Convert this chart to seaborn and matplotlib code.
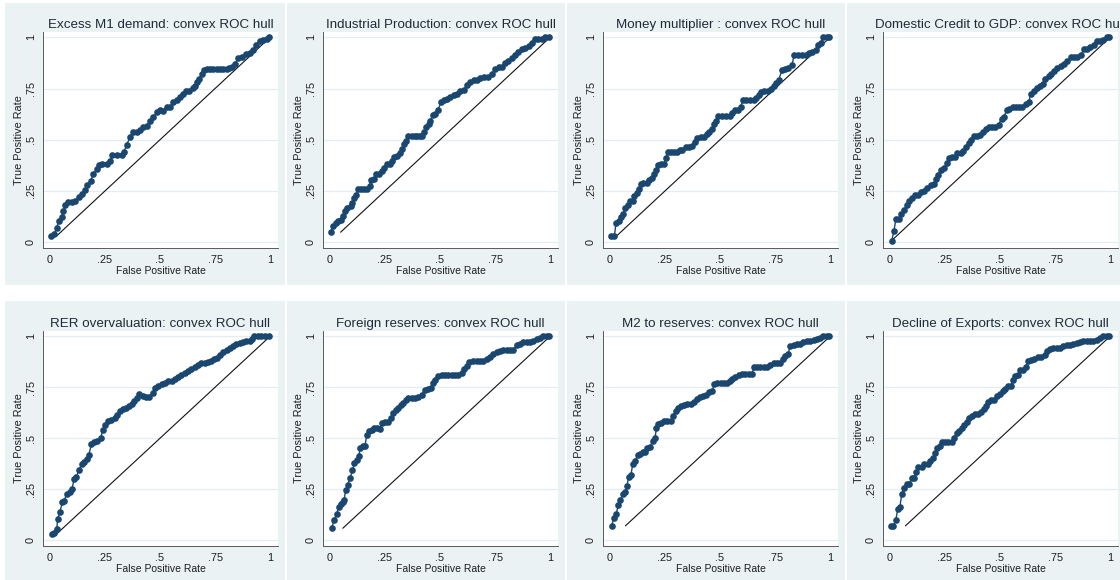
import matplotlib
matplotlib.use("Agg")
import matplotlib.pyplot as plt
import seaborn as sns
import pandas as pd
from matplotlib.patches import Rectangle

# ---------------- data ----------------
titles = [
    "Excess M1 demand: convex ROC hull",
    "Industrial Production: convex ROC hull",
    "Money multiplier : convex ROC hull",
    "Domestic Credit to GDP: convex ROC hull",
    "RER overvaluation: convex ROC hull",
    "Foreign reserves: convex ROC hull",
    "M2 to reserves: convex ROC hull",
    "Decline of Exports: convex ROC hull",
]

tick_values = [0, 0.25, 0.5, 0.75, 1]
tick_labels = ["0", ".25", ".5", ".75", "1"]

m1_fpr = [0.005, 0.02, 0.03, 0.04, 0.053, 0.06, 0.07, 0.083, 0.1, 0.114, 0.13, 0.144, 0.16, 0.17,
          0.185, 0.197, 0.212, 0.224, 0.238, 0.258, 0.273, 0.283, 0.303, 0.326, 0.336, 0.348,
          0.364, 0.379, 0.394, 0.409, 0.424, 0.439, 0.455, 0.47, 0.485, 0.5, 0.515, 0.53, 0.545,
          0.56, 0.576, 0.59, 0.603, 0.618, 0.633, 0.648, 0.659, 0.67, 0.679, 0.689, 0.7, 0.712,
          0.727, 0.742, 0.758, 0.773, 0.788, 0.803, 0.815, 0.826, 0.841, 0.856, 0.871, 0.891,
          0.909, 0.924, 0.936, 0.952, 0.97, 0.985, 0.997]
m1_tpr = [0.03, 0.04, 0.07, 0.105, 0.12, 0.15, 0.18, 0.195, 0.195, 0.2, 0.22, 0.235, 0.255, 0.28,
          0.30, 0.333, 0.355, 0.374, 0.382, 0.382, 0.398, 0.423, 0.423, 0.423, 0.439, 0.476,
          0.512, 0.54, 0.54, 0.545, 0.564, 0.569, 0.589, 0.61, 0.634, 0.645, 0.642, 0.658, 0.662,
          0.683, 0.694, 0.707, 0.724, 0.737, 0.74, 0.753, 0.764, 0.78, 0.797, 0.821, 0.84, 0.846,
          0.846, 0.846, 0.846, 0.846, 0.846, 0.846, 0.848, 0.854, 0.87, 0.9, 0.902, 0.919,
          0.922, 0.938, 0.963, 0.98, 0.988, 0.992, 1.0]

ip_fpr = [0.003, 0.015, 0.026, 0.036, 0.048, 0.059, 0.068, 0.079, 0.094, 0.101, 0.109, 0.119,
          0.127, 0.139, 0.154, 0.169, 0.18, 0.187, 0.199, 0.207, 0.222, 0.234, 0.245, 0.257,
          0.272, 0.282, 0.29, 0.305, 0.317, 0.328, 0.335, 0.346, 0.355, 0.373, 0.385, 0.396,
          0.407, 0.418, 0.429, 0.437, 0.449, 0.456, 0.467, 0.479, 0.489, 0.506, 0.52, 0.532,
          0.547, 0.562, 0.577, 0.592, 0.607, 0.622, 0.637, 0.653, 0.668, 0.683, 0.701, 0.72,
          0.735, 0.751, 0.766, 0.781, 0.796, 0.811, 0.826, 0.841, 0.856, 0.872, 0.887, 0.902,
          0.917, 0.932, 0.947, 0.962, 0.977, 0.997]
ip_tpr = [0.048, 0.077, 0.093, 0.105, 0.11, 0.126, 0.151, 0.167, 0.175, 0.192, 0.216, 0.23,
          0.257, 0.261, 0.261, 0.261, 0.274, 0.303, 0.307, 0.334, 0.334, 0.348, 0.364, 0.38,
          0.38, 0.397, 0.416, 0.421, 0.433, 0.454, 0.479, 0.495, 0.518, 0.518, 0.518, 0.518,
          0.518, 0.518, 0.536, 0.561, 0.577, 0.593, 0.621, 0.626, 0.643, 0.684, 0.692, 0.7,
          0.708, 0.716, 0.725, 0.738, 0.744, 0.766, 0.782, 0.79, 0.79, 0.803, 0.807, 0.807,
          0.82, 0.843, 0.856, 0.856, 0.875, 0.885, 0.897, 0.913, 0.93, 0.941, 0.946, 0.957,
          0.974, 0.99, 0.99, 0.99, 1.0, 1.0]

mm_fpr = [0.005, 0.02, 0.027, 0.039, 0.05, 0.06, 0.069, 0.08, 0.09, 0.103, 0.11, 0.121, 0.13,
          0.14, 0.151, 0.166, 0.178, 0.19, 0.2, 0.211, 0.22, 0.231, 0.246, 0.253, 0.264, 0.276,
          0.291, 0.306, 0.317, 0.329, 0.344, 0.359, 0.374, 0.386, 0.397, 0.412, 0.427, 0.439,
          0.452, 0.465, 0.472, 0.483, 0.492, 0.507, 0.525, 0.543, 0.555, 0.567, 0.582, 0.593,
          0.603, 0.618, 0.638, 0.653, 0.664, 0.676, 0.686, 0.701, 0.718, 0.732, 0.744, 0.754,
          0.766, 0.781, 0.796, 0.811, 0.827, 0.837, 0.852, 0.872, 0.89, 0.905, 0.92, 0.935,
          0.947, 0.959, 0.97, 0.985, 0.997]
mm_tpr = [0.031, 0.031, 0.093, 0.105, 0.121, 0.138, 0.164, 0.18, 0.2, 0.2, 0.225, 0.241, 0.257,
          0.285, 0.29, 0.29, 0.302, 0.315, 0.331, 0.351, 0.377, 0.38, 0.38, 0.41, 0.438, 0.438,
          0.438, 0.441, 0.449, 0.449, 0.462, 0.466, 0.47, 0.487, 0.508, 0.511, 0.511, 0.528,
          0.539, 0.552, 0.577, 0.59, 0.618, 0.618, 0.618, 0.618, 0.63, 0.646, 0.646, 0.659,
          0.692, 0.692, 0.692, 0.692, 0.703, 0.716, 0.733, 0.738, 0.738, 0.749, 0.761, 0.777,
          0.79, 0.839, 0.844, 0.852, 0.867, 0.913, 0.913, 0.913, 0.913, 0.925, 0.93, 0.938,
          0.962, 0.974, 1.0, 1.0, 1.0]

dc_fpr = [0.007, 0.018, 0.027, 0.04, 0.052, 0.064, 0.075, 0.087, 0.1, 0.112, 0.127, 0.139, 0.154,
          0.169, 0.184, 0.199, 0.209, 0.219, 0.231, 0.246, 0.258, 0.269, 0.281, 0.296, 0.306,
          0.321, 0.333, 0.343, 0.358, 0.369, 0.381, 0.396, 0.41, 0.422, 0.437, 0.448, 0.463,
          0.478, 0.493, 0.507, 0.518, 0.53, 0.542, 0.557, 0.572, 0.587, 0.601, 0.616, 0.631,
          0.639, 0.652, 0.667, 0.682, 0.694, 0.706, 0.721, 0.733, 0.746, 0.761, 0.776, 0.791,
          0.806, 0.821, 0.836, 0.851, 0.866, 0.881, 0.896, 0.91, 0.925, 0.94, 0.955, 0.97,
          0.985, 0.996]
dc_tpr = [0.003, 0.056, 0.115, 0.115, 0.138, 0.159, 0.18, 0.203, 0.213, 0.228, 0.228, 0.246,
          0.249, 0.262, 0.277, 0.282, 0.307, 0.326, 0.351, 0.364, 0.384, 0.41, 0.416, 0.416,
          0.433, 0.433, 0.446, 0.466, 0.482, 0.498, 0.52, 0.52, 0.525, 0.536, 0.552, 0.561,
          0.561, 0.561, 0.574, 0.602, 0.61, 0.646, 0.651, 0.662, 0.662, 0.662, 0.662, 0.675,
          0.684, 0.725, 0.738, 0.754, 0.761, 0.774, 0.798, 0.81, 0.82, 0.836, 0.848, 0.859,
          0.872, 0.885, 0.902, 0.902, 0.902, 0.913, 0.941, 0.941, 0.954, 0.962, 0.984, 0.984,
          0.987, 1.0, 1.0]

rer_fpr = [0.008, 0.02, 0.03, 0.035, 0.045, 0.056, 0.065, 0.075, 0.09, 0.1, 0.11, 0.12, 0.131,
           0.143, 0.155, 0.17, 0.176, 0.188, 0.2, 0.215, 0.23, 0.24, 0.251, 0.263, 0.278, 0.293,
           0.305, 0.316, 0.331, 0.346, 0.361, 0.371, 0.383, 0.395, 0.406, 0.421, 0.436, 0.451,
           0.466, 0.477, 0.492, 0.507, 0.522, 0.537, 0.552, 0.567, 0.582, 0.597, 0.612, 0.627,
           0.642, 0.657, 0.672, 0.687, 0.702, 0.717, 0.732, 0.747, 0.759, 0.774, 0.786, 0.802,
           0.817, 0.832, 0.847, 0.862, 0.877, 0.892, 0.907, 0.917, 0.928, 0.943, 0.958, 0.977,
           0.997]
rer_tpr = [0.028, 0.036, 0.053, 0.103, 0.139, 0.185, 0.194, 0.227, 0.235, 0.252, 0.301, 0.31,
           0.343, 0.371, 0.384, 0.397, 0.417, 0.47, 0.48, 0.487, 0.5, 0.541, 0.566, 0.583, 0.591,
           0.599, 0.616, 0.632, 0.641, 0.649, 0.657, 0.669, 0.682, 0.699, 0.715, 0.707, 0.702,
           0.702, 0.724, 0.748, 0.757, 0.765, 0.773, 0.781, 0.781, 0.79, 0.798, 0.811, 0.818,
           0.828, 0.839, 0.848, 0.861, 0.868, 0.868, 0.873, 0.877, 0.889, 0.894, 0.906, 0.922,
           0.934, 0.944, 0.95, 0.96, 0.967, 0.972, 0.975, 0.975, 0.988, 1.0, 1.0, 1.0, 1.0, 1.0]

fr_fpr = [0.008, 0.018, 0.03, 0.039, 0.048, 0.058, 0.064, 0.071, 0.08, 0.091, 0.102, 0.111, 0.121,
          0.13, 0.138, 0.148, 0.159, 0.167, 0.179, 0.189, 0.2, 0.215, 0.227, 0.236, 0.25, 0.265,
          0.277, 0.288, 0.3, 0.311, 0.321, 0.333, 0.344, 0.356, 0.371, 0.386, 0.402, 0.417,
          0.432, 0.444, 0.458, 0.467, 0.479, 0.492, 0.508, 0.523, 0.538, 0.553, 0.568, 0.583,
          0.598, 0.609, 0.621, 0.633, 0.648, 0.667, 0.682, 0.697, 0.712, 0.727, 0.742, 0.758,
          0.773, 0.788, 0.803, 0.818, 0.833, 0.848, 0.864, 0.879, 0.894, 0.909, 0.924, 0.939,
          0.955, 0.97, 0.985, 0.997]
fr_tpr = [0.058, 0.099, 0.128, 0.164, 0.178, 0.189, 0.197, 0.247, 0.271, 0.304, 0.342, 0.378,
          0.395, 0.411, 0.452, 0.464, 0.464, 0.518, 0.535, 0.539, 0.551, 0.551, 0.546, 0.576,
          0.579, 0.579, 0.6, 0.622, 0.638, 0.65, 0.661, 0.671, 0.688, 0.699, 0.699, 0.699, 0.704,
          0.711, 0.735, 0.74, 0.748, 0.77, 0.786, 0.803, 0.809, 0.809, 0.809, 0.809, 0.809, 0.809,
          0.819, 0.839, 0.855, 0.872, 0.88, 0.88, 0.88, 0.88, 0.891, 0.896, 0.913, 0.921, 0.929,
          0.934, 0.934, 0.934, 0.934, 0.957, 0.962, 0.97, 0.974, 0.974, 0.979, 0.987, 0.99, 1.0,
          1.0, 1.0]

m2_fpr = [0.008, 0.017, 0.027, 0.038, 0.047, 0.057, 0.068, 0.077, 0.084, 0.095, 0.103, 0.115,
          0.125, 0.136, 0.148, 0.16, 0.17, 0.181, 0.193, 0.204, 0.211, 0.22, 0.231, 0.246, 0.261,
          0.276, 0.287, 0.299, 0.309, 0.321, 0.336, 0.351, 0.367, 0.382, 0.394, 0.407, 0.422,
          0.437, 0.452, 0.465, 0.474, 0.487, 0.502, 0.517, 0.532, 0.543, 0.555, 0.57, 0.585,
          0.6, 0.615, 0.63, 0.646, 0.653, 0.668, 0.683, 0.698, 0.713, 0.729, 0.744, 0.759, 0.774,
          0.784, 0.796, 0.808, 0.819, 0.834, 0.849, 0.864, 0.879, 0.894, 0.909, 0.925, 0.94,
          0.955, 0.97, 0.985, 0.997]
m2_tpr = [0.07, 0.11, 0.126, 0.172, 0.197, 0.225, 0.238, 0.267, 0.308, 0.32, 0.372, 0.389, 0.418,
          0.421, 0.431, 0.431, 0.454, 0.459, 0.484, 0.5, 0.549, 0.569, 0.577, 0.585, 0.585, 0.585,
          0.611, 0.631, 0.648, 0.656, 0.664, 0.667, 0.667, 0.677, 0.693, 0.7, 0.705, 0.713,
          0.726, 0.733, 0.766, 0.77, 0.77, 0.77, 0.77, 0.779, 0.792, 0.798, 0.808, 0.815, 0.815,
          0.815, 0.815, 0.848, 0.851, 0.851, 0.851, 0.851, 0.857, 0.869, 0.869, 0.869, 0.89,
          0.902, 0.913, 0.951, 0.959, 0.962, 0.962, 0.972, 0.975, 0.979, 0.984, 0.987, 0.992,
          1.0, 1.0, 1.0]

ex_fpr = [0.005, 0.015, 0.026, 0.035, 0.045, 0.053, 0.064, 0.076, 0.088, 0.098, 0.111, 0.118,
          0.129, 0.144, 0.156, 0.171, 0.183, 0.194, 0.205, 0.215, 0.227, 0.235, 0.25, 0.265, 0.28,
          0.291, 0.303, 0.314, 0.326, 0.338, 0.348, 0.359, 0.371, 0.386, 0.402, 0.414, 0.426,
          0.436, 0.447, 0.459, 0.474, 0.485, 0.5, 0.512, 0.523, 0.535, 0.55, 0.558, 0.568, 0.58,
          0.591, 0.606, 0.617, 0.626, 0.641, 0.656, 0.671, 0.686, 0.702, 0.712, 0.727, 0.742,
          0.758, 0.773, 0.788, 0.803, 0.818, 0.833, 0.848, 0.864, 0.879, 0.894, 0.909, 0.924,
          0.939, 0.955, 0.97, 0.985, 0.995]
ex_tpr = [0.07, 0.07, 0.098, 0.152, 0.164, 0.225, 0.254, 0.274, 0.274, 0.307, 0.307, 0.336, 0.361,
          0.361, 0.372, 0.372, 0.389, 0.402, 0.426, 0.454, 0.464, 0.48, 0.48, 0.48, 0.48, 0.503,
          0.525, 0.536, 0.549, 0.566, 0.579, 0.598, 0.611, 0.618, 0.618, 0.628, 0.644, 0.659,
          0.677, 0.689, 0.689, 0.705, 0.716, 0.73, 0.743, 0.754, 0.757, 0.787, 0.803, 0.808,
          0.836, 0.836, 0.848, 0.877, 0.885, 0.89, 0.897, 0.897, 0.907, 0.93, 0.939, 0.943,
          0.943, 0.943, 0.951, 0.956, 0.956, 0.962, 0.967, 0.97, 0.975, 0.975, 0.975, 0.979,
          0.984, 0.992, 1.0, 1.0, 1.0]

series = [(m1_fpr, m1_tpr), (ip_fpr, ip_tpr), (mm_fpr, mm_tpr), (dc_fpr, dc_tpr),
          (rer_fpr, rer_tpr), (fr_fpr, fr_tpr), (m2_fpr, m2_tpr), (ex_fpr, ex_tpr)]

# ---------------- style ----------------
sns.set_style("white")
plt.rcParams["font.family"] = ["Liberation Sans", "DejaVu Sans"]

NAVY = "#1a476f"
PANEL_BG = "#eaf2f3"
GRID = "#e6edf0"
AXIS = "#5a5a5a"
TXT = "#1e1e1e"

W, H = 1120, 580
fig = plt.figure(figsize=(W / 100, H / 100), dpi=100)
fig.patch.set_facecolor("white")

# panel backgrounds (pixel boxes: x, y_top, w, h)
bg_boxes = [(5, 3, 280, 282), (287, 3, 278, 282), (567, 3, 278, 282), (847, 3, 273, 282),
            (5, 301, 280, 279), (287, 301, 278, 279), (567, 301, 278, 279), (847, 301, 273, 279)]
for (bx, by, bw, bh) in bg_boxes:
    fig.patches.append(Rectangle((bx / W, 1 - (by + bh) / H), bw / W, bh / H,
                                 transform=fig.transFigure, facecolor=PANEL_BG,
                                 edgecolor="none", zorder=-10))

col_x = [43, 323, 603, 883]
row_y = [(32, 248), (331, 546)]
AX_W = 235

for i, (title, (fx, ty)) in enumerate(zip(titles, series)):
    r, c = divmod(i, 4)
    top, bot = row_y[r]
    ax = fig.add_axes([col_x[c] / W, 1 - bot / H, AX_W / W, (bot - top) / H])
    ax.set_zorder(5)
    ax.set_facecolor("white")

    df = pd.DataFrame({"fpr": fx, "tpr": ty})
    for yv in tick_values:
        ax.axhline(yv, color=GRID, lw=0.9, zorder=0)
    ax.plot([ty[0], 1], [ty[0], 1], color="#111111", lw=0.8, zorder=2)
    sns.lineplot(data=df, x="fpr", y="tpr", ax=ax, estimator=None, sort=False,
                 color=NAVY, lw=1.0, marker="o", markersize=4.8,
                 markeredgewidth=0, zorder=3)

    ax.set_xlim(-0.032, 1.036)
    ax.set_ylim(-0.029, 1.026)
    ax.set_xticks(tick_values)
    ax.set_xticklabels(tick_labels)
    ax.set_yticks(tick_values)
    ax.set_yticklabels(tick_labels, rotation=90, va="center")
    ax.tick_params(axis="both", direction="out", length=3.5, width=0.7, color=AXIS,
                   labelsize=7.8, labelcolor=TXT, pad=1.5)
    for s in ["top", "right"]:
        ax.spines[s].set_visible(False)
    for s in ["left", "bottom"]:
        ax.spines[s].set_color(AXIS)
        ax.spines[s].set_linewidth(0.7)
    ax.set_xlabel("False Positive Rate", fontsize=7.5, color=TXT, labelpad=0.5)
    ax.set_ylabel("True Positive Rate", fontsize=7.8, color=TXT, labelpad=1.5)
    ax.set_title(title, fontsize=9.6, color="#1e2b38", pad=3)

fig.savefig("out.png", dpi=100, facecolor="white")
